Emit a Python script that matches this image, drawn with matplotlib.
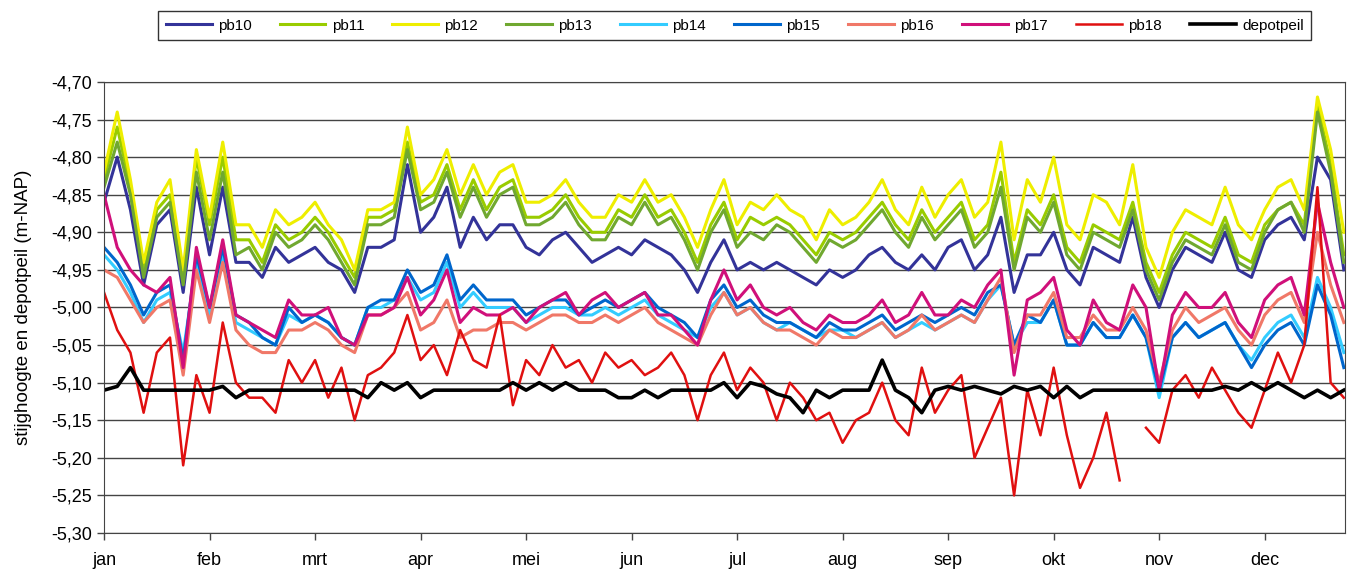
import numpy as np
import matplotlib
matplotlib.use("Agg")
import matplotlib.pyplot as plt
from matplotlib.ticker import FuncFormatter

plt.rcParams['font.family'] = ['Liberation Sans', 'DejaVu Sans']

# tijd in maanden (stap 1/8 maand), waarden in m-NAP
maanden = ['jan', 'feb', 'mrt', 'apr', 'mei', 'jun', 'jul', 'aug', 'sep', 'okt', 'nov', 'dec']
t = np.arange(95) / 8.0

pb12 = [-4.82, -4.74, -4.83, -4.94, -4.86, -4.83, -4.95, -4.79, -4.88, -4.78, -4.89, -4.89,
        -4.92, -4.87, -4.89, -4.88, -4.86, -4.89, -4.91, -4.95, -4.87, -4.87, -4.86, -4.76,
        -4.85, -4.83, -4.79, -4.85, -4.81, -4.85, -4.82, -4.81, -4.86, -4.86, -4.85, -4.83,
        -4.86, -4.88, -4.88, -4.85, -4.86, -4.83, -4.86, -4.85, -4.88, -4.92, -4.87, -4.83,
        -4.89, -4.86, -4.87, -4.85, -4.87, -4.88, -4.91, -4.87, -4.89, -4.88, -4.86, -4.83,
        -4.87, -4.89, -4.84, -4.88, -4.85, -4.83, -4.88, -4.86, -4.78, -4.91, -4.83, -4.86,
        -4.80, -4.89, -4.91, -4.85, -4.86, -4.89, -4.81, -4.92, -4.96, -4.90, -4.87, -4.88,
        -4.89, -4.84, -4.89, -4.91, -4.87, -4.84, -4.83, -4.87, -4.72, -4.79, -4.90]
pb11 = [-4.83, -4.76, -4.84, -4.95, -4.87, -4.85, -4.96, -4.80, -4.89, -4.80, -4.91, -4.91,
        -4.94, -4.89, -4.91, -4.90, -4.88, -4.90, -4.93, -4.96, -4.88, -4.88, -4.87, -4.78,
        -4.86, -4.85, -4.81, -4.87, -4.83, -4.87, -4.84, -4.83, -4.88, -4.88, -4.87, -4.85,
        -4.88, -4.90, -4.90, -4.87, -4.88, -4.85, -4.88, -4.87, -4.90, -4.94, -4.89, -4.86,
        -4.91, -4.88, -4.89, -4.88, -4.89, -4.91, -4.93, -4.90, -4.91, -4.90, -4.88, -4.86,
        -4.89, -4.91, -4.87, -4.90, -4.88, -4.86, -4.91, -4.89, -4.82, -4.94, -4.87, -4.89,
        -4.85, -4.92, -4.94, -4.89, -4.90, -4.91, -4.86, -4.94, -4.98, -4.93, -4.90, -4.91,
        -4.92, -4.88, -4.93, -4.94, -4.89, -4.87, -4.86, -4.89, -4.73, -4.81, -4.93]
pb13 = [-4.84, -4.78, -4.85, -4.96, -4.88, -4.86, -4.97, -4.82, -4.91, -4.82, -4.93, -4.92,
        -4.95, -4.90, -4.92, -4.91, -4.89, -4.91, -4.94, -4.97, -4.89, -4.89, -4.88, -4.79,
        -4.87, -4.86, -4.82, -4.88, -4.84, -4.88, -4.85, -4.84, -4.89, -4.89, -4.88, -4.86,
        -4.89, -4.91, -4.91, -4.88, -4.89, -4.86, -4.89, -4.88, -4.91, -4.95, -4.90, -4.87,
        -4.92, -4.90, -4.91, -4.89, -4.90, -4.92, -4.94, -4.91, -4.92, -4.91, -4.89, -4.87,
        -4.90, -4.92, -4.88, -4.91, -4.89, -4.87, -4.92, -4.90, -4.84, -4.95, -4.88, -4.90,
        -4.86, -4.93, -4.95, -4.90, -4.91, -4.92, -4.87, -4.95, -4.99, -4.94, -4.91, -4.92,
        -4.93, -4.89, -4.94, -4.95, -4.90, -4.87, -4.86, -4.90, -4.74, -4.82, -4.94]
pb10 = [-4.86, -4.80, -4.87, -4.97, -4.89, -4.87, -4.98, -4.84, -4.93, -4.84, -4.94, -4.94,
        -4.96, -4.92, -4.94, -4.93, -4.92, -4.94, -4.95, -4.98, -4.92, -4.92, -4.91, -4.81,
        -4.90, -4.88, -4.84, -4.92, -4.88, -4.91, -4.89, -4.89, -4.92, -4.93, -4.91, -4.90,
        -4.92, -4.94, -4.93, -4.92, -4.93, -4.91, -4.92, -4.93, -4.95, -4.98, -4.94, -4.91,
        -4.95, -4.94, -4.95, -4.94, -4.95, -4.96, -4.97, -4.95, -4.96, -4.95, -4.93, -4.92,
        -4.94, -4.95, -4.93, -4.95, -4.92, -4.91, -4.95, -4.93, -4.88, -4.98, -4.93, -4.93,
        -4.90, -4.95, -4.97, -4.92, -4.93, -4.94, -4.88, -4.96, -5.00, -4.95, -4.92, -4.93,
        -4.94, -4.90, -4.95, -4.96, -4.91, -4.89, -4.88, -4.91, -4.80, -4.83, -4.95]
pb14 = [-4.93, -4.95, -4.98, -5.02, -4.99, -4.98, -5.06, -4.94, -5.01, -4.93, -5.02, -5.03,
        -5.04, -5.05, -5.01, -5.02, -5.01, -5.02, -5.04, -5.05, -5.00, -5.00, -4.99, -4.96,
        -4.99, -4.98, -4.94, -5.00, -4.98, -5.00, -5.00, -5.00, -5.02, -5.01, -5.00, -5.00,
        -5.01, -5.01, -5.00, -5.01, -5.00, -4.99, -5.01, -5.02, -5.03, -5.04, -5.00, -4.98,
        -5.01, -5.00, -5.02, -5.03, -5.02, -5.03, -5.04, -5.03, -5.03, -5.04, -5.03, -5.02,
        -5.04, -5.03, -5.02, -5.03, -5.02, -5.01, -5.02, -4.99, -4.97, -5.05, -5.02, -5.02,
        -4.99, -5.05, -5.05, -5.02, -5.04, -5.04, -5.01, -5.04, -5.12, -5.04, -5.02, -5.04,
        -5.03, -5.02, -5.05, -5.07, -5.04, -5.02, -5.01, -5.04, -4.96, -5.00, -5.06]
pb15 = [-4.92, -4.94, -4.97, -5.01, -4.98, -4.97, -5.07, -4.93, -5.00, -4.92, -5.01, -5.02,
        -5.04, -5.05, -5.00, -5.02, -5.01, -5.02, -5.04, -5.05, -5.00, -4.99, -4.99, -4.95,
        -4.98, -4.97, -4.93, -4.99, -4.97, -4.99, -4.99, -4.99, -5.01, -5.00, -4.99, -4.99,
        -5.01, -5.00, -4.99, -5.00, -4.99, -4.98, -5.00, -5.01, -5.02, -5.04, -4.99, -4.97,
        -5.00, -4.99, -5.01, -5.02, -5.02, -5.03, -5.04, -5.02, -5.03, -5.03, -5.02, -5.01,
        -5.03, -5.02, -5.01, -5.02, -5.01, -5.00, -5.01, -4.98, -4.97, -5.05, -5.01, -5.02,
        -4.99, -5.05, -5.05, -5.02, -5.04, -5.04, -5.01, -5.04, -5.11, -5.04, -5.02, -5.04,
        -5.03, -5.02, -5.05, -5.08, -5.05, -5.03, -5.02, -5.05, -4.97, -5.01, -5.08]
pb16 = [-4.95, -4.96, -4.99, -5.02, -5.00, -4.99, -5.09, -4.95, -5.02, -4.94, -5.03, -5.05,
        -5.06, -5.06, -5.03, -5.03, -5.02, -5.03, -5.05, -5.06, -5.01, -5.01, -5.00, -4.98,
        -5.03, -5.02, -4.99, -5.04, -5.03, -5.03, -5.02, -5.02, -5.03, -5.02, -5.01, -5.01,
        -5.02, -5.02, -5.01, -5.02, -5.01, -5.00, -5.02, -5.03, -5.04, -5.05, -5.01, -4.98,
        -5.01, -5.00, -5.02, -5.03, -5.03, -5.04, -5.05, -5.03, -5.04, -5.04, -5.03, -5.02,
        -5.04, -5.03, -5.01, -5.03, -5.02, -5.01, -5.02, -4.99, -4.96, -5.06, -5.01, -5.01,
        -4.98, -5.04, -5.04, -5.01, -5.03, -5.03, -5.00, -5.03, -5.10, -5.03, -5.00, -5.02,
        -5.01, -5.00, -5.03, -5.05, -5.01, -4.99, -4.98, -5.02, -4.90, -4.97, -5.02]
pb17 = [-4.85, -4.92, -4.95, -4.97, -4.98, -4.96, -5.08, -4.92, -5.00, -4.91, -5.01, -5.02,
        -5.03, -5.04, -4.99, -5.01, -5.01, -5.00, -5.04, -5.05, -5.01, -5.01, -5.00, -4.96,
        -5.01, -4.99, -4.95, -5.02, -5.00, -5.01, -5.01, -5.00, -5.02, -5.00, -4.99, -4.98,
        -5.01, -4.99, -4.98, -5.00, -4.99, -4.98, -5.01, -5.01, -5.03, -5.05, -4.99, -4.95,
        -4.99, -4.97, -5.00, -5.01, -5.00, -5.02, -5.03, -5.01, -5.02, -5.02, -5.01, -4.99,
        -5.02, -5.01, -4.98, -5.01, -5.01, -4.99, -5.00, -4.97, -4.95, -5.09, -4.99, -4.98,
        -4.96, -5.03, -5.05, -4.99, -5.02, -5.03, -4.97, -5.00, -5.11, -5.01, -4.98, -5.00,
        -5.00, -4.98, -5.02, -5.04, -4.99, -4.97, -4.96, -5.01, -4.86, -4.94, -5.00]
pb18 = [-4.98, -5.03, -5.06, -5.14, -5.06, -5.04, -5.21, -5.09, -5.14, -5.02, -5.10, -5.12,
        -5.12, -5.14, -5.07, -5.10, -5.07, -5.12, -5.08, -5.15, -5.09, -5.08, -5.06, -5.01,
        -5.07, -5.05, -5.09, -5.03, -5.07, -5.08, -5.01, -5.13, -5.07, -5.09, -5.05, -5.08,
        -5.07, -5.10, -5.06, -5.08, -5.07, -5.09, -5.08, -5.06, -5.09, -5.15, -5.09, -5.06,
        -5.11, -5.08, -5.10, -5.15, -5.10, -5.12, -5.15, -5.14, -5.18, -5.15, -5.14, -5.10,
        -5.15, -5.17, -5.08, -5.14, -5.11, -5.09, -5.20, -5.16, -5.12, -5.25, -5.11, -5.17,
        -5.08, -5.17, -5.24, -5.20, -5.14, -5.23, np.nan, -5.16, -5.18, -5.11, -5.09, -5.12,
        -5.08, -5.11, -5.14, -5.16, -5.11, -5.06, -5.10, -5.05, -4.84, -5.10, -5.12]
depotpeil = [-5.11, -5.105, -5.08, -5.11, -5.11, -5.11, -5.11, -5.11, -5.11, -5.105, -5.12, -5.11,
             -5.11, -5.11, -5.11, -5.11, -5.11, -5.11, -5.11, -5.11, -5.12, -5.10, -5.11, -5.10,
             -5.12, -5.11, -5.11, -5.11, -5.11, -5.11, -5.11, -5.10, -5.11, -5.10, -5.11, -5.10,
             -5.11, -5.11, -5.11, -5.12, -5.12, -5.11, -5.12, -5.11, -5.11, -5.11, -5.11, -5.10,
             -5.12, -5.10, -5.105, -5.115, -5.12, -5.14, -5.11, -5.12, -5.11, -5.11, -5.11, -5.07,
             -5.11, -5.12, -5.14, -5.11, -5.105, -5.11, -5.105, -5.11, -5.115, -5.105, -5.11, -5.105,
             -5.12, -5.105, -5.12, -5.11, -5.11, -5.11, -5.11, -5.11, -5.11, -5.11, -5.11, -5.11,
             -5.11, -5.105, -5.11, -5.10, -5.11, -5.10, -5.11, -5.12, -5.11, -5.12, -5.11]

reeksen = [('pb10', pb10, '#333399', 2.2), ('pb11', pb11, '#99CC00', 2.2),
           ('pb12', pb12, '#EEEE00', 2.2), ('pb13', pb13, '#70A830', 2.2),
           ('pb14', pb14, '#33CCFF', 2.2), ('pb15', pb15, '#0066CC', 2.2),
           ('pb16', pb16, '#F07868', 2.2), ('pb17', pb17, '#D0107A', 2.2),
           ('pb18', pb18, '#E01010', 1.8), ('depotpeil', depotpeil, 'black', 2.6)]

fig = plt.figure(figsize=(13.53, 5.73), dpi=100)
ax = fig.add_axes([0.0769, 0.0698, 0.9171, 0.7872])

for naam, waarden, kleur, lw in reeksen:
    ax.plot(t, waarden, color=kleur, lw=lw, label=naam)

ax.set_xlim(0, 11.76)
ax.set_ylim(-5.30, -4.70)
ax.set_yticks(np.arange(-5.30, -4.69, 0.05))
ax.yaxis.set_major_formatter(FuncFormatter(lambda v, p: ('%.2f' % v).replace('.', ',')))
ax.set_xticks(range(12))
ax.set_xticklabels(maanden)
ax.yaxis.grid(True, color='#444444', lw=1)
ax.set_axisbelow(True)
for s in ax.spines.values():
    s.set_color('#444444')
ax.tick_params(axis='both', labelsize=13, color='#444444', length=5, width=1)
ax.tick_params(axis='x', pad=9)
ax.set_ylabel('stijghoogte en depotpeil (m-NAP)', fontsize=13.5, labelpad=14)

leg = fig.legend(loc='center', bbox_to_anchor=(0.543, 0.955), ncol=10, fontsize=11,
                 handlelength=3.0, columnspacing=1.85, handletextpad=0.4,
                 fancybox=False, edgecolor='black', borderpad=0.5)
leg.get_frame().set_linewidth(1.0)

fig.savefig('out.png', dpi=100)
